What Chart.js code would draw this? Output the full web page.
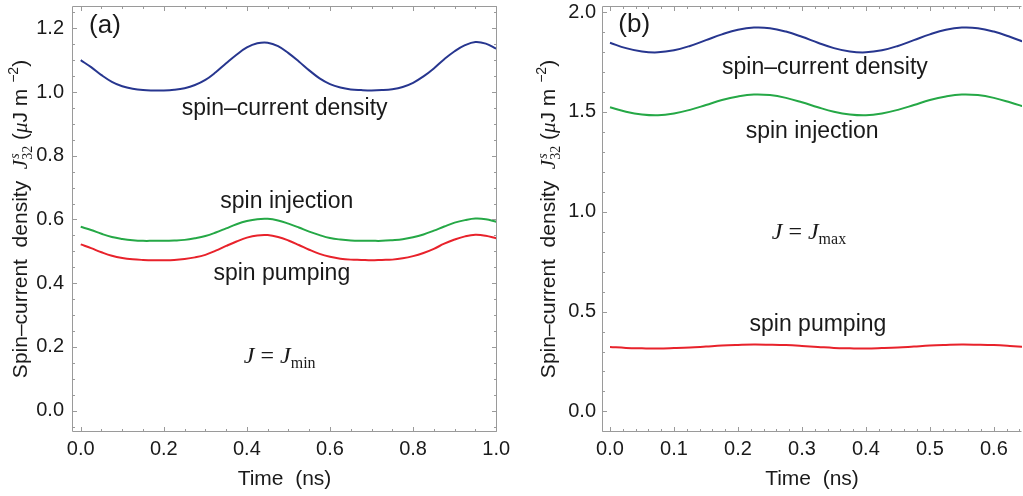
<!DOCTYPE html>
<html>
<head>
<meta charset="utf-8">
<script src="https://cdn.jsdelivr.net/npm/chart.js@4.4.1/dist/chart.umd.min.js"></script>
<style>
  body { margin: 0; background: #fff; }
  .panel { position: absolute; top: 0; height: 496px; }
  #wrapA { left: 0; width: 511px; }
  #wrapB { left: 511px; width: 512px; }
</style>
</head>
<body>
<div class="panel" id="wrapA"><canvas id="chartA"></canvas></div>
<div class="panel" id="wrapB"><canvas id="chartB"></canvas></div>
<script>
// panel (a): J = Jmin
const timeA = [0.000, 0.025, 0.050, 0.075, 0.100, 0.125, 0.150, 0.175, 0.200, 0.225,
  0.250, 0.275, 0.300, 0.325, 0.350, 0.375, 0.400, 0.425, 0.450, 0.475,
  0.500, 0.525, 0.550, 0.575, 0.600, 0.625, 0.650, 0.675, 0.700, 0.725,
  0.750, 0.775, 0.800, 0.825, 0.850, 0.875, 0.900, 0.925, 0.950, 0.975, 1.000];
const densityA = [1.100, 1.078, 1.053, 1.032, 1.018, 1.010, 1.006, 1.005, 1.005, 1.007,
  1.012, 1.022, 1.038, 1.062, 1.090, 1.117, 1.140, 1.153, 1.155, 1.144,
  1.122, 1.096, 1.068, 1.043, 1.025, 1.014, 1.008, 1.006, 1.005, 1.006,
  1.009, 1.016, 1.029, 1.049, 1.074, 1.103, 1.128, 1.147, 1.157, 1.152, 1.136];
const injectionA = [0.577, 0.567, 0.555, 0.545, 0.539, 0.535, 0.533, 0.533, 0.533, 0.534,
  0.536, 0.541, 0.548, 0.559, 0.572, 0.585, 0.595, 0.601, 0.602, 0.597,
  0.587, 0.575, 0.562, 0.551, 0.542, 0.537, 0.534, 0.533, 0.533, 0.533,
  0.535, 0.538, 0.544, 0.553, 0.565, 0.578, 0.590, 0.598, 0.603, 0.601, 0.593];
const pumpingA = [0.522, 0.510, 0.497, 0.486, 0.479, 0.475, 0.473, 0.472, 0.472, 0.473,
  0.476, 0.481, 0.489, 0.502, 0.517, 0.531, 0.543, 0.550, 0.551, 0.545,
  0.534, 0.520, 0.505, 0.492, 0.483, 0.477, 0.474, 0.473, 0.472, 0.473,
  0.474, 0.478, 0.485, 0.495, 0.508, 0.524, 0.537, 0.547, 0.552, 0.549, 0.541];
const xTicksA = [0.0, 0.2, 0.4, 0.6, 0.8, 1.0];
const yTicksA = [0.0, 0.2, 0.4, 0.6, 0.8, 1.0, 1.2];

// panel (b): J = Jmax
const timeB = [0.000, 0.025, 0.050, 0.075, 0.100, 0.125, 0.150, 0.175, 0.200, 0.225,
  0.250, 0.275, 0.300, 0.325, 0.350, 0.375, 0.400, 0.425, 0.450, 0.475,
  0.500, 0.525, 0.550, 0.575, 0.600, 0.625, 0.650];
const densityB = [1.846, 1.819, 1.802, 1.798, 1.808, 1.830, 1.859, 1.888, 1.911, 1.922,
  1.919, 1.902, 1.876, 1.846, 1.819, 1.802, 1.798, 1.808, 1.830, 1.859,
  1.888, 1.911, 1.922, 1.919, 1.902, 1.876, 1.846];
const injectionB = [1.523, 1.501, 1.487, 1.483, 1.492, 1.510, 1.534, 1.559, 1.577, 1.587,
  1.584, 1.570, 1.548, 1.523, 1.501, 1.487, 1.483, 1.492, 1.510, 1.534,
  1.559, 1.577, 1.587, 1.584, 1.570, 1.548, 1.523];
const pumpingB = [0.323, 0.318, 0.316, 0.315, 0.317, 0.320, 0.325, 0.330, 0.333, 0.335,
  0.334, 0.332, 0.328, 0.323, 0.318, 0.316, 0.315, 0.317, 0.320, 0.325,
  0.330, 0.333, 0.335, 0.334, 0.332, 0.328, 0.323];
const xTicksB = [0.0, 0.1, 0.2, 0.3, 0.4, 0.5, 0.6];
const yTicksB = [0.0, 0.5, 1.0, 1.5, 2.0];

const SANS = "Liberation Sans, Arial, sans-serif";
const SERIF = "Liberation Serif, 'Times New Roman', serif";
const TEXT = "#1a1a1a";
const BLUE = "#27368f";
const GREEN = "#25a846";
const RED = "#e8222b";

// draws a row of text pieces with different fonts; {sup, sub} pieces are stacked
function drawRich(ctx, segs, x, y, align, baseline) {
  ctx.textBaseline = baseline || "alphabetic";
  ctx.textAlign = "left";
  let total = 0;
  const widths = segs.map((s) => {
    let w;
    if (s.sup !== undefined) {
      ctx.font = s.font;
      const w1 = ctx.measureText(s.sup).width;
      ctx.font = s.subFont || s.font;
      w = Math.max(w1, ctx.measureText(s.sub).width);
    } else {
      ctx.font = s.font;
      w = ctx.measureText(s.t).width;
    }
    total += w;
    return w;
  });
  let cx = align === "center" ? x - total / 2 : x;
  segs.forEach((s, i) => {
    if (s.sup !== undefined) {
      ctx.font = s.font;
      ctx.fillText(s.sup, cx + 1, y - 8);
      ctx.font = s.subFont || s.font;
      ctx.fillText(s.sub, cx, y + 5);
    } else {
      ctx.font = s.font;
      ctx.fillText(s.t, cx, y + (s.dy || 0));
    }
    cx += widths[i];
  });
}

const yTitleSegs = [
  { t: "Spin\u2013current  density  ", font: "21px " + SANS },
  { t: "J", font: "italic 21px " + SERIF },
  { sup: "s", sub: "32", font: "italic 14px " + SERIF, subFont: "14px " + SERIF },
  { t: " (", font: "21px " + SANS },
  { t: "\u03bc", font: "italic 21px " + SERIF },
  { t: "J m ", font: "21px " + SANS },
  { t: "\u22122", font: "14px " + SANS, dy: -9 },
  { t: ")", font: "21px " + SANS },
];

const framePlugin = {
  id: "frame",
  afterDatasetsDraw(chart, args, opts) {
    const { ctx, chartArea: a, scales } = chart;
    const x = scales.x;
    const y = scales.y;
    const L = Math.round(a.left) + 0.5;
    const R = Math.round(a.right) - 0.5;
    const T = Math.round(a.top) + 0.5;
    const B = Math.round(a.bottom) - 0.5;
    ctx.save();
    ctx.strokeStyle = "#9a9a9a";
    ctx.lineWidth = 1;
    ctx.beginPath();
    ctx.moveTo(L, T); ctx.lineTo(L, B); ctx.lineTo(R, B);
    ctx.moveTo(L, T); ctx.lineTo(R, T);
    if (opts.right) { ctx.moveTo(R, T); ctx.lineTo(R, B); }
    ctx.stroke();

    ctx.beginPath();
    const tickX = (v, len) => {
      const px = Math.round(x.getPixelForValue(v)) + 0.5;
      if (px < L - 1 || px > R + 1) return;
      ctx.moveTo(px, B); ctx.lineTo(px, B - len);
      ctx.moveTo(px, T); ctx.lineTo(px, T + len);
    };
    const tickY = (v, len) => {
      const py = Math.round(y.getPixelForValue(v)) + 0.5;
      if (py < T - 1 || py > B + 1) return;
      ctx.moveTo(L, py); ctx.lineTo(L + len, py);
      if (opts.right) { ctx.moveTo(R, py); ctx.lineTo(R - len, py); }
    };
    for (let v = opts.xMinor[0]; v <= opts.xMinor[1] + 1e-9; v += opts.xMinor[2]) tickX(v, 2.5);
    for (let v = opts.yMinor[0]; v <= opts.yMinor[1] + 1e-9; v += opts.yMinor[2]) tickY(v, 2.5);
    x.ticks.forEach((t) => tickX(t.value, 4.5));
    y.ticks.forEach((t) => tickY(t.value, 4.5));
    ctx.stroke();
    ctx.restore();
  },
};

const notesPlugin = {
  id: "notes",
  afterDraw(chart, args, opts) {
    const { ctx, chartArea: a, scales } = chart;
    ctx.save();
    ctx.fillStyle = TEXT;
    opts.items.forEach((n) => {
      const px = scales.x.getPixelForValue(n.x);
      const py = scales.y.getPixelForValue(n.y);
      drawRich(ctx, n.segs, px, py, n.align || "center", n.baseline);
    });
    // rotated y-axis title
    ctx.translate(opts.titleX, (a.top + a.bottom) / 2);
    ctx.rotate(-Math.PI / 2);
    drawRich(ctx, yTitleSegs, 0, 0, "center", "alphabetic");
    ctx.restore();
  },
};

function series(times, values, color) {
  return {
    data: times.map((t, i) => ({ x: t, y: values[i] })),
    borderColor: color,
    borderWidth: 2,
    pointRadius: 0,
    fill: false,
    tension: 0.4,
  };
}

function makePanel(id, p) {
  const tickFont = { family: SANS, size: 20 };
  return new Chart(document.getElementById(id), {
    type: "line",
    data: {
      datasets: [
        series(p.time, p.density, BLUE),
        series(p.time, p.injection, GREEN),
        series(p.time, p.pumping, RED),
      ],
    },
    options: {
      responsive: true,
      maintainAspectRatio: false,
      animation: false,
      layout: { padding: p.padding },
      plugins: {
        legend: { display: false },
        tooltip: { enabled: false },
        frame: p.frame,
        notes: p.notes,
      },
      scales: {
        x: {
          type: "linear",
          min: p.xRange[0],
          max: p.xRange[1],
          afterBuildTicks: (s) => { s.ticks = p.xTicks.map((v) => ({ value: v })); },
          afterFit: (s) => { s.height = 64; s.paddingLeft = 0; s.paddingRight = 0; },
          grid: { display: false, drawTicks: false },
          border: { display: false },
          ticks: {
            font: tickFont, color: TEXT, padding: 5, autoSkip: false, maxRotation: 0,
            callback: (v) => v.toFixed(1),
          },
          title: {
            display: true, text: "Time  (ns)", color: TEXT,
            font: { family: SANS, size: 21 }, padding: { top: 0, bottom: 4 },
          },
        },
        y: {
          type: "linear",
          min: p.yRange[0],
          max: p.yRange[1],
          afterBuildTicks: (s) => { s.ticks = p.yTicks.map((v) => ({ value: v })); },
          afterFit: (s) => { s.width = p.yWidth; s.paddingTop = 0; s.paddingBottom = 0; },
          grid: { display: false, drawTicks: false },
          border: { display: false },
          ticks: {
            font: tickFont, color: TEXT, padding: p.yPad, autoSkip: false,
            callback: (v) => v.toFixed(1),
          },
        },
      },
    },
    plugins: [framePlugin, notesPlugin],
  });
}

const noteFont = "23px " + SANS;
const mathFont = "italic 24px " + SERIF;

makePanel("chartA", {
  time: timeA, density: densityA, injection: injectionA, pumping: pumpingA,
  xTicks: xTicksA, yTicks: yTicksA,
  xRange: [-0.021, 1.002], yRange: [-0.067, 1.27],
  yWidth: 72, yPad: 8,
  padding: { left: 0, top: 6, right: 14, bottom: 0 },
  frame: { right: true, xMinor: [0, 1.0, 0.05], yMinor: [-0.05, 1.25, 0.05] },
  notes: {
    titleX: 27,
    items: [
      { x: 0.491, y: 0.949, baseline: "middle", segs: [{ t: "spin\u2013current density", font: noteFont }] },
      { x: 0.496, y: 0.657, baseline: "middle", segs: [{ t: "spin injection", font: noteFont }] },
      { x: 0.484, y: 0.431, baseline: "middle", segs: [{ t: "spin pumping", font: noteFont }] },
      { x: 0.020, y: 1.209, baseline: "middle", align: "left", segs: [{ t: "(a)", font: "26px " + SANS }] },
      { x: 0.479, y: 0.151, segs: [
        { t: "J", font: mathFont },
        { t: " = ", font: "24px " + SERIF },
        { t: "J", font: mathFont },
        { t: "min", font: "16px " + SERIF, dy: 5 },
      ] },
    ],
  },
});

makePanel("chartB", {
  time: timeB, density: densityB, injection: injectionB, pumping: pumpingB,
  xTicks: xTicksB, yTicks: yTicksB,
  xRange: [-0.0125, 0.644], yRange: [-0.103, 2.03],
  yWidth: 91, yPad: 6,
  padding: { left: 0, top: 6, right: 1, bottom: 0 },
  frame: { right: false, xMinor: [0, 0.64, 0.02], yMinor: [-0.1, 2.0, 0.1] },
  notes: {
    titleX: 44,
    items: [
      { x: 0.336, y: 1.719, baseline: "middle", segs: [{ t: "spin\u2013current density", font: noteFont }] },
      { x: 0.316, y: 1.400, baseline: "middle", segs: [{ t: "spin injection", font: noteFont }] },
      { x: 0.325, y: 0.436, baseline: "middle", segs: [{ t: "spin pumping", font: noteFont }] },
      { x: 0.013, y: 1.934, baseline: "middle", align: "left", segs: [{ t: "(b)", font: "26px " + SANS }] },
      { x: 0.311, y: 0.861, segs: [
        { t: "J", font: mathFont },
        { t: " = ", font: "24px " + SERIF },
        { t: "J", font: mathFont },
        { t: "max", font: "16px " + SERIF, dy: 5 },
      ] },
    ],
  },
});
</script>
</body>
</html>
